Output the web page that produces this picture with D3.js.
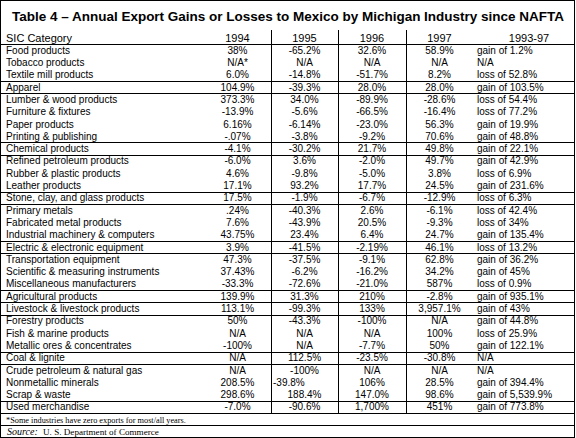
<!DOCTYPE html>
<html><head><meta charset="utf-8">
<script src="https://cdn.jsdelivr.net/npm/d3@7/dist/d3.min.js"></script>
<style>body{margin:0;background:#fff}svg{display:block}</style>
</head><body>
<script>
// ---------- data ----------
const title = "Table 4 \u2013 Annual Export Gains or Losses to Mexico by Michigan Industry since NAFTA";
const headers = ["SIC Category", "1994", "1995", "1996", "1997", "1993-97"];
const categories = [
  "Food products", "Tobacco products", "Textile mill products", "Apparel",
  "Lumber & wood products", "Furniture & fixtures", "Paper products", "Printing & publishing",
  "Chemical products", "Refined petroleum products", "Rubber & plastic products", "Leather products",
  "Stone, clay, and glass products", "Primary metals", "Fabricated metal products",
  "Industrial machinery & computers", "Electric & electronic equipment", "Transportation equipment",
  "Scientific & measuring instruments", "Miscellaneous manufacturers", "Agricultural products",
  "Livestock & livestock products", "Forestry products", "Fish & marine products",
  "Metallic ores & concentrates", "Coal & lignite", "Crude petroleum & natural gas",
  "Nonmetallic minerals", "Scrap & waste", "Used merchandise"
];
const y1994 = ["38%","N/A*","6.0%","104.9%","373.3%","-13.9%","6.16%","-.07%","-4.1%","-6.0%","4.6%","17.1%","17.5%",".24%","7.6%","43.75%","3.9%","47.3%","37.43%","-33.3%","139.9%","113.1%","50%","N/A","-100%","N/A","N/A","208.5%","298.6%","-7.0%"];
const y1995 = ["-65.2%","N/A","-14.8%","-39.3%","34.0%","-5.6%","-6.14%","-3.8%","-30.2%","3.6%","-9.8%","93.2%","-1.9%","-40.3%","-43.9%","23.4%","-41.5%","-37.5%","-6.2%","-72.6%","31.3%","-99.3%","-43.3%","N/A","N/A","112.5%","-100%","-39.8%","188.4%","-90.6%"];
const y1996 = ["32.6%","N/A","-51.7%","28.0%","-89.9%","-66.5%","-23.0%","-9.2%","21.7%","-2.0%","-5.0%","17.7%","-6.7%","2.6%","20.5%","6.4%","-2.19%","-9.1%","-16.2%","-21.0%","210%","133%","-100%","N/A","-7.7%","-23.5%","N/A","106%","147.0%","1,700%"];
const y1997 = ["58.9%","N/A","8.2%","28.0%","-28.6%","-16.4%","56.3%","70.6%","49.8%","49.7%","3.8%","24.5%","-12.9%","-6.1%","-9.3%","24.7%","46.1%","62.8%","34.2%","587%","-2.8%","3,957.1%","N/A","100%","50%","-30.8%","N/A","28.5%","98.6%","451%"];
const period = ["gain of 1.2%","N/A","loss of 52.8%","gain of 103.5%","loss of 54.4%","loss of 77.2%","gain of 19.9%","gain of 48.8%","gain of 22.1%","gain of 42.9%","loss of 6.9%","gain of 231.6%","loss of 6.3%","loss of 42.4%","loss of 34%","gain of 135.4%","loss of 13.2%","gain of 36.2%","gain of 45%","loss of 0.9%","gain of 935.1%","gain of 43%","gain of 44.8%","loss of 25.9%","gain of 122.1%","N/A","N/A","gain of 394.4%","gain of 5,539.9%","gain of 773.8%"];
// last row index of each industry group (a rule is drawn beneath it)
const groupEnds = [2, 3, 7, 8, 11, 12, 15, 16, 19, 20, 21, 24, 25, 28, 29];
const footnote = "*Some industries have zero exports for most/all years.";
const sourceLabel = "Source:";
const sourceText = "U. S. Department of Commerce";

// ---------- layout ----------
const W = 576, H = 438;
const colEdges = [0, 204, 271, 338, 406, 473, 574];
const ruledCols = [2, 3, 4];       // vertical rules at these edges
const sans = "Arial, 'Liberation Sans', sans-serif";
const serif = "'Times New Roman', 'Liberation Serif', serif";

const svg = d3.select("body").append("svg").attr("width", W).attr("height", H);

// fit a text's font size so its width equals target
function fitWidth(sel, target) {
  const fs = parseFloat(sel.attr("font-size"));
  const w = sel.node().getComputedTextLength();
  if (w > 0) sel.attr("font-size", (fs * target / w).toFixed(2));
  return sel;
}

const yRow = d3.scaleLinear().domain([0, categories.length]).range([44, 413]);
const rowMid = i => (yRow(i) + yRow(i + 1)) / 2;

const colX = d3.scaleOrdinal().domain(d3.range(6)).range(
  d3.range(6).map(c => c === 0 ? 6 : c === 5 ? colEdges[5] + 4 : (colEdges[c] + colEdges[c + 1]) / 2));
const colAnchor = c => (c === 0 || c === 5) ? "start" : "middle";

// frame
svg.append("rect").attr("x", 0.5).attr("y", 0.5).attr("width", 574).attr("height", 437)
  .attr("fill", "none").attr("stroke", "#000").attr("shape-rendering", "crispEdges");

// title
const t = svg.append("text").attr("x", 12).attr("y", 20.5)
  .attr("font-family", sans).attr("font-weight", "bold").attr("font-size", 14)
  .text(title);
fitWidth(t, 552);

// header
svg.selectAll("text.hdr").data(headers).join("text").attr("class", "hdr")
  .attr("x", (d, i) => i === 5 ? colEdges[5] + 56 : colX(i)).attr("y", 38).attr("dy", "0.35em")
  .attr("text-anchor", (d, i) => i === 5 ? "middle" : colAnchor(i))
  .attr("font-family", sans).attr("font-size", 11)
  .text(d => d);

// horizontal rules
const hLines = [yRow(0)].concat(groupEnds.map(i => yRow(i + 1))).concat([425]);
svg.selectAll("line.h").data(hLines).join("line").attr("class", "h")
  .attr("x1", 0).attr("x2", 575)
  .attr("y1", d => Math.round(d) + 0.5).attr("y2", d => Math.round(d) + 0.5)
  .attr("stroke", "#000").attr("shape-rendering", "crispEdges");

// vertical rules
svg.selectAll("line.v").data(ruledCols).join("line").attr("class", "v")
  .attr("x1", c => colEdges[c] + 0.5).attr("x2", c => colEdges[c] + 0.5)
  .attr("y1", 30).attr("y2", Math.round(yRow(categories.length)) + 0.5)
  .attr("stroke", "#000").attr("shape-rendering", "crispEdges");

// body cells
const columns = [categories, y1994, y1995, y1996, y1997, period];
const cells = [];
columns.forEach((col, c) => col.forEach((v, r) => cells.push({ r, c, v })));
// one cell in the source is shifted to the left edge of its column
const leftShifted = new Set(["27-2"]);

svg.selectAll("text.cell").data(cells).join("text").attr("class", "cell")
  .attr("x", d => leftShifted.has(d.r + "-" + d.c) ? colEdges[d.c] + 2 : colX(d.c))
  .attr("y", d => rowMid(d.r)).attr("dy", "0.36em")
  .attr("text-anchor", d => leftShifted.has(d.r + "-" + d.c) ? "start" : colAnchor(d.c))
  .attr("font-family", sans).attr("font-size", 10)
  .text(d => d.v);

// footnote + source
const fn = svg.append("text").attr("x", 6).attr("y", 422.5)
  .attr("font-family", serif).attr("font-size", 10)
  .text(footnote);
fitWidth(fn, 180);
svg.append("text").attr("x", 7).attr("y", 434.5)
  .attr("font-family", serif).attr("font-size", 10).attr("font-style", "italic")
  .text(sourceLabel);
const st = svg.append("text").attr("x", 43).attr("y", 434.5)
  .attr("font-family", serif).attr("font-size", 10)
  .text(sourceText);
fitWidth(st, 116);
</script>
</body></html>
